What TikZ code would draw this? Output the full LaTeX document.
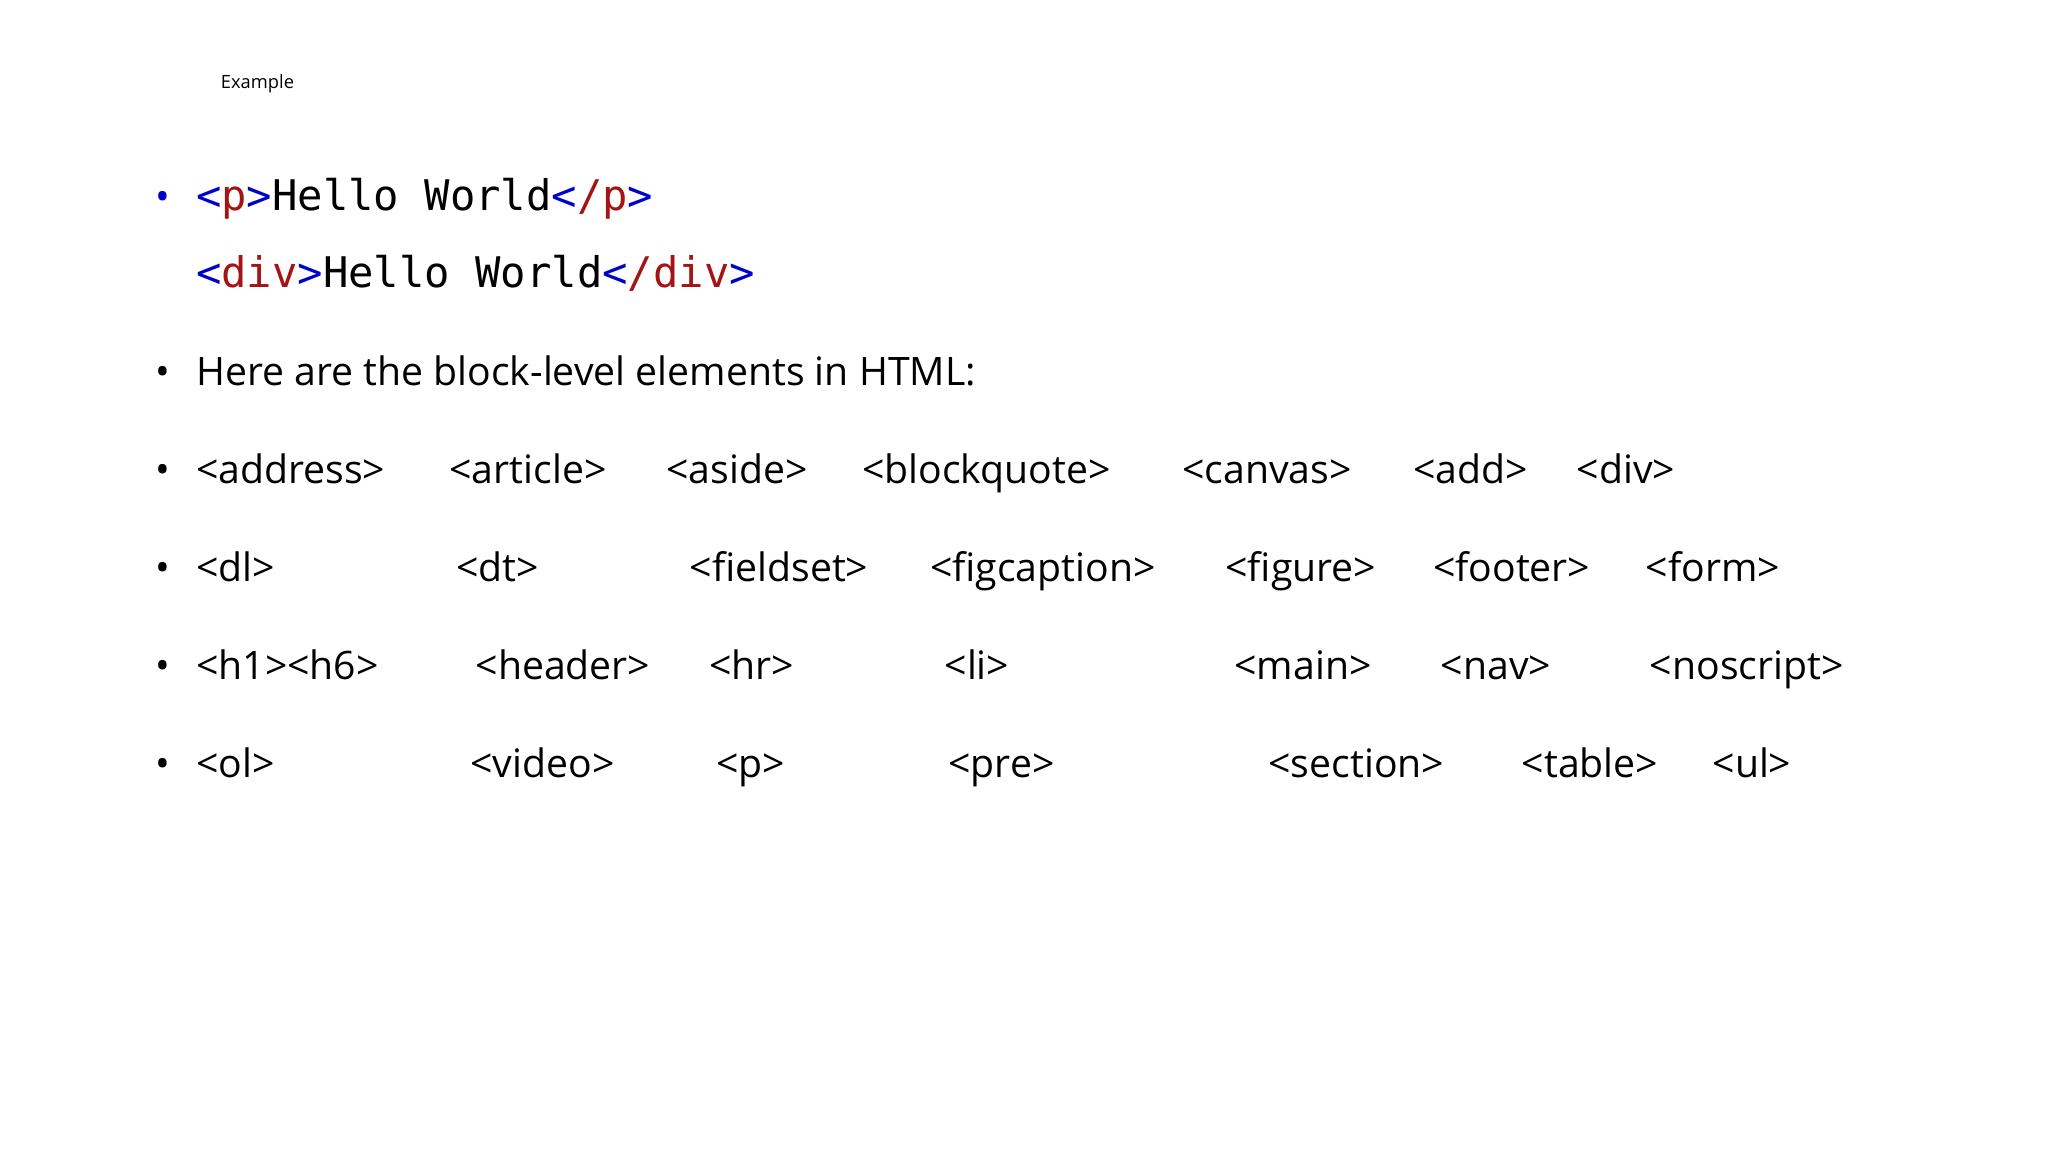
\documentclass[tikz,border=0pt]{standalone}
\usepackage{fontspec}
\setmainfont{Open Sans}
\setmonofont{DejaVu Sans Mono}
\definecolor{tagblue}{RGB}{0,0,205}
\definecolor{tagred}{RGB}{163,21,21}
\newcommand{\tb}[1]{\textcolor{tagblue}{#1}}
\newcommand{\tr}[1]{\textcolor{tagred}{#1}}
\begin{document}
\begin{tikzpicture}[x=1pt,y=-1pt,
  txt/.style={anchor=base west,inner sep=0pt,font=\fontsize{30}{36}\selectfont},
  code/.style={anchor=base west,inner sep=0pt,font=\ttfamily\fontsize{32.3}{38}\selectfont},
  bul/.style={anchor=base,inner sep=0pt,font=\fontsize{30}{36}\selectfont}]
\useasboundingbox[fill=white] (0,0) rectangle (1568,882);
\node[anchor=base west,inner sep=0pt,font=\fontsize{14}{16}\selectfont] (ex) at (169,68) {Example};
\node[bul,text=tagblue] (b1) at (125,161) {•};
\node[code] (l1) at (150,161) {\tb{<}\tr{p}\tb{>}Hello World\tb{<}\tr{/p}\tb{>}};
\node[code] (l2) at (150,220) {\tb{<}\tr{div}\tb{>}Hello World\tb{<}\tr{/div}\tb{>}};
\node[bul] (b3) at (125,295) {•};
\node[txt] (l3) at (150,295) {Here are the block-level elements in HTML:};
\foreach \y/\n in {370/4,445/5,520/6,595/7}{\node[bul] (b\n) at (125,\y) {•};}
\foreach \x/\t [count=\i] in {150/address,344/article,510/aside,660/blockquote,905/canvas,1082/add,1207/div}
  {\node[txt] (r4\i) at (\x,370) {<\t>};}
\foreach \x/\t [count=\i] in {150/dl,349/dt,528/fieldset,712/figcaption,938/figure,1097/footer,1260/form}
  {\node[txt] (r5\i) at (\x,445) {<\t>};}
\foreach \x/\t [count=\i] in {150/h1><h6,364/header,543/hr,723/li,945/main,1103/nav,1263/noscript}
  {\node[txt] (r6\i) at (\x,520) {<\t>};}
\foreach \x/\t [count=\i] in {150/ol,360/video,548/p,726/pre,971/section,1165/table,1311/ul}
  {\node[txt] (r7\i) at (\x,595) {<\t>};}
\end{tikzpicture}
\end{document}
